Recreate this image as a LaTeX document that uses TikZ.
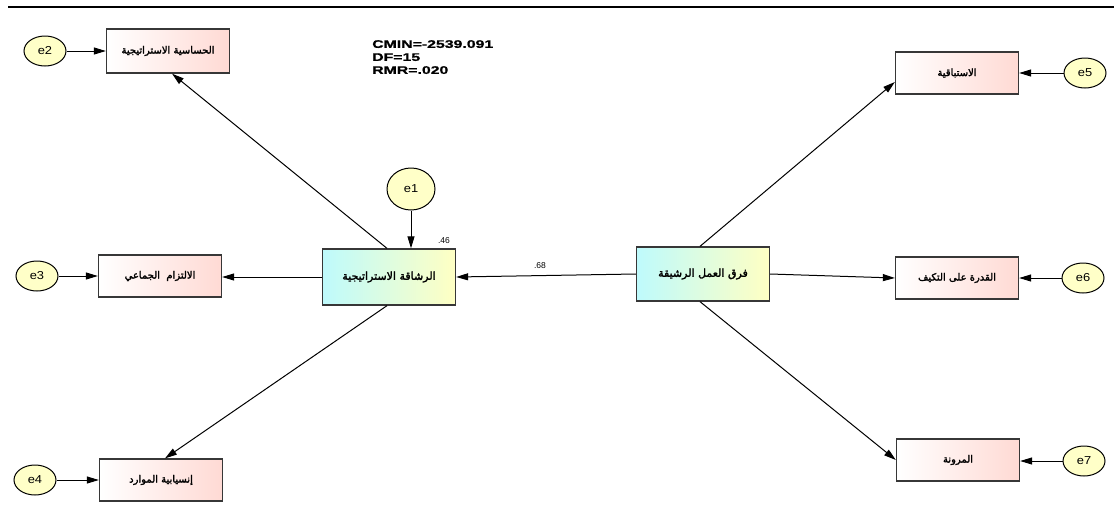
\documentclass[tikz,border=0pt]{standalone}
\usepackage{fontspec}
\setmainfont{Liberation Sans}
\newfontfamily\arabicfont[Script=Arabic,FakeBold=2.2]{DejaVu Sans}
\newfontfamily\statfont[FakeStretch=1.44,FakeBold=1]{Liberation Sans}
\newfontfamily\errfont[FakeStretch=1.12]{Liberation Sans}
\TeXXeTstate=1
\usetikzlibrary{arrows.meta,shapes.geometric}
\definecolor{errfill}{RGB}{255,255,200}
\definecolor{obsR}{RGB}{255,218,212}
\definecolor{latL}{RGB}{190,250,252}
\definecolor{latR}{RGB}{255,255,195}
\definecolor{boxline}{RGB}{55,55,55}
\tikzset{
  obs/.style={draw=boxline, line width=1.3pt, left color=white, right color=obsR,
    minimum width=123pt, minimum height=42pt, inner sep=0pt,
    font=\arabicfont\fontsize{10}{12}\selectfont},
  lat/.style={draw=boxline, line width=1.3pt, left color=latL, right color=latR,
    minimum width=133pt, minimum height=56pt, inner sep=0pt,
    font=\arabicfont\fontsize{11}{13}\selectfont},
  err/.style={ellipse, draw, line width=1pt, fill=errfill,
    minimum width=42pt, minimum height=30pt, inner sep=0pt,
    font=\errfont\fontsize{11.5}{13}\selectfont},
  arr/.style={line width=1pt, -{Triangle[length=12pt,width=7pt]}},
  coef/.style={font=\fontsize{8.5}{9}\selectfont, inner sep=0pt},
}
\begin{document}
\begin{tikzpicture}[x=1pt,y=-1pt]
\useasboundingbox (0,0) rectangle (1114,517);
% heading rule
\coordinate (ruleL) at (8,7);
\coordinate (ruleR) at (1114,7);
\draw[line width=2.2pt] (ruleL) -- (ruleR);

% fit statistics
\node[anchor=north west, align=left, inner sep=0pt,
      font=\statfont\bfseries\fontsize{11}{13}\selectfont] (fit) at (372,40)
  {CMIN=-2539.091\\DF=15\\RMR=.020};

% latent variables
\node[lat] (c) at (389,277) {\beginR الرشاقة الاستراتيجية\endR};
\node[lat, minimum height=54pt] (r) at (703,274) {\beginR فرق العمل الرشيقة\endR};

% indicators, left
\node[obs, minimum height=44pt] (b1) at (168,51) {\beginR الحساسية الاستراتيجية\endR};
\node[obs] (b3) at (160,276) {\beginR الالتزام\ \ الجماعي\endR};
\node[obs] (b4) at (161,480) {\beginR إنسيابية الموارد\endR};
% indicators, right
\node[obs] (b5) at (957,73) {\beginR الاستباقية\endR};
\node[obs] (b6) at (957,278) {\beginR القدرة على التكيف\endR};
\node[obs] (b7) at (958,460) {\beginR المرونة\endR};

% error terms
\node[err, minimum width=48pt, minimum height=42pt] (e1) at (411,189) {e1};
\node[err] (e2) at (45,51) {e2};
\node[err] (e3) at (37,276) {e3};
\node[err] (e4) at (35,480) {e4};
\node[err] (e5) at (1085,73) {e5};
\node[err] (e6) at (1083,278) {e6};
\node[err] (e7) at (1084,461) {e7};

% coefficients
\node[coef] (r2) at (444,241) {.46};
\node[coef] (p1) at (540,266) {.68};

% structural path
\draw[arr] (r.west) -- (c.east);
\draw[arr] (e1.south) -- (e1.south |- c.north);

% loadings of the left construct
\draw[arr] ([xshift=-2pt]c.north) -- ([xshift=4pt]b1.south);
\draw[arr] (c.west) -- (c.west -| b3.east);
\draw[arr] ([xshift=-2pt]c.south) -- ([xshift=4pt]b4.north);

% loadings of the right construct
\draw[arr] ([xshift=-3pt]r.north) -- ([yshift=-9pt]b5.west);
\draw[arr] (r.east) -- (b6.west);
\draw[arr] ([xshift=-3pt]r.south) -- (b7.west);

% error arrows
\draw[arr] (e2.east) -- (b1.west |- e2.east);
\draw[arr] (e3.east) -- (b3.west |- e3.east);
\draw[arr] (e4.east) -- (b4.west |- e4.east);
\draw[arr] (e5.west) -- (b5.east |- e5.west);
\draw[arr] (e6.west) -- (b6.east |- e6.west);
\draw[arr] (e7.west) -- (b7.east |- e7.west);
\end{tikzpicture}
\end{document}
